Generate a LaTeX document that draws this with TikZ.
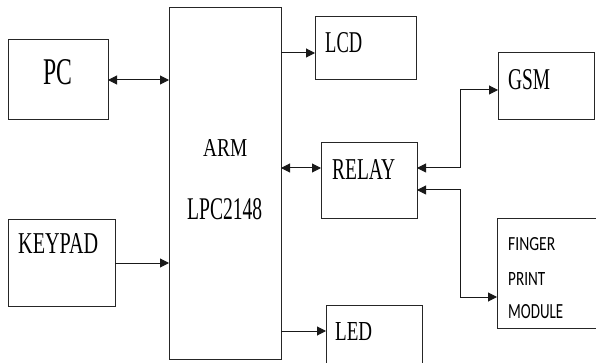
\documentclass[tikz,border=0pt]{standalone}
\usepackage{fontspec}
\setmainfont{Liberation Serif}
\newfontfamily\carl{Carlito}
\usetikzlibrary{arrows.meta,calc}
\newcommand{\sq}[3]{\resizebox{#1pt}{#2pt}{#3}}
\begin{document}
\begin{tikzpicture}[x=1pt,y=-1pt,
  box/.style={draw=black!85,line width=1pt,inner sep=0pt,outer sep=0pt,minimum width=#1},
  lbl/.style={anchor=base west,inner sep=0pt,text=black},
  con/.style={draw=black!90,line width=1pt},
  tip/.style={-{Triangle[length=9pt,width=9pt]}},
  tips/.style={{Triangle[length=9pt,width=9pt]}-{Triangle[length=9pt,width=9pt]}}]
\clip (0,0) rectangle (596,363);
\fill[white] (0,0) rectangle (596,363);
% boxes
\node[box=100pt,minimum height=80pt] (pc) at (58,80) {};
\node[box=107pt,minimum height=87pt] (kp) at (61.5,263) {};
\node[box=112pt,minimum height=351pt] (arm) at (225,183.5) {};
\node[box=101pt,minimum height=63pt] (lcd) at (365.5,48.5) {};
\node[box=96pt,minimum height=75pt] (relay) at (369,180.5) {};
\node[box=96pt,minimum height=70pt] (led) at (374,340) {};
\node[box=96pt,minimum height=67pt] (gsm) at (546,86.5) {};
\node[box=103pt,minimum height=110pt] (fp) at (548.5,273) {};
% texts
\node[lbl] (tpc) at (43,85) {\sq{29}{25}{PC}};
\node[lbl] (tkp) at (18,253) {\sq{80}{20}{KEYPAD}};
\node[lbl] (tarm) at (203,157) {\sq{44}{17}{ARM}};
\node[lbl] (tlpc) at (187,220) {\sq{75}{21}{LPC2148}};
\node[lbl] (tlcd) at (325,53) {\sq{37}{20}{LCD}};
\node[lbl] (tgsm) at (508,90) {\sq{42}{20}{GSM}};
\node[lbl] (trel) at (332,180) {\sq{63}{20}{RELAY}};
\node[lbl] (tled) at (335,340) {\sq{37}{18}{LED}};
\node[lbl] (tf1) at (508,250) {\sq{47}{13}{\carl FINGER}};
\node[lbl] (tf2) at (508,285) {\sq{37}{13}{\carl PRINT}};
\node[lbl] (tf3) at (508,318) {\sq{55}{14}{\carl MODULE}};
% connector points
\coordinate (plcd) at ($(lcd.west)+(0,4.5)$);
\coordinate (prelw) at ($(relay.west)+(0,-12.5)$);
\coordinate (pled) at ($(led.west)+(0,-9)$);
\coordinate (prel1) at ($(relay.east)+(0,-12.5)$);
\coordinate (prel2) at ($(relay.east)+(0,9.5)$);
\coordinate (jg) at (460,90);
\coordinate (jf) at (460,297);
% connectors
\draw[con,tips] (pc.east) -- (pc.east -| arm.west);
\draw[con,tip] (kp.east) -- (kp.east -| arm.west);
\draw[con,tip] (plcd -| arm.east) -- (plcd);
\draw[con,tips] (prelw -| arm.east) -- (prelw);
\draw[con,tip] (pled -| arm.east) -- (pled);
\draw[con,tips] (prel1) -- (prel1 -| jg) -- (jg) -- (jg -| gsm.west);
\draw[con,tips] (prel2) -- (prel2 -| jf) -- (jf) -- (jf -| fp.west);
\end{tikzpicture}
\end{document}
